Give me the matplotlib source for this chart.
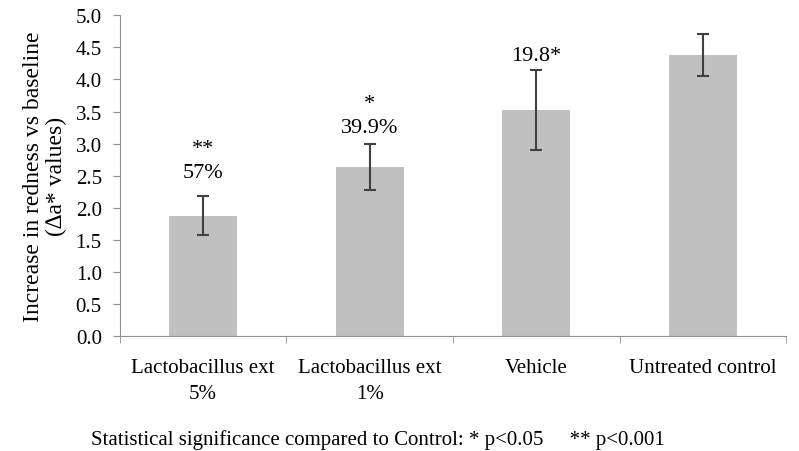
import matplotlib
matplotlib.use("Agg")
from matplotlib import pyplot as plt
import numpy as np

plt.rcParams['font.family'] = ['Liberation Serif', 'DejaVu Serif']

categories = ['Lactobacillus ext\n5%', 'Lactobacillus ext\n1%', 'Vehicle', 'Untreated control']
means = [1.88, 2.64, 3.52, 4.38]
errors = [0.30, 0.36, 0.62, 0.33]
notes = ['**\n57%', '*\n39.9%', '19.8*', '']
note_gap = [0.22, 0.10, 0.08, 0.0]

fig = plt.figure(figsize=(7.99, 4.52), dpi=100)
ax = fig.add_axes([0.150, 0.254, 0.834, 0.710])

x = np.arange(len(categories))
ax.bar(x, means, width=0.41, color='#c0c0c0', zorder=2)
ax.errorbar(x, means, yerr=errors, fmt='none', ecolor='#404040',
            elinewidth=1.5, capsize=4, capthick=1.5, zorder=3)

for xi, m, e, n, g in zip(x, means, errors, notes, note_gap):
    if n:
        ax.text(xi, m + e + g, n, ha='center', va='bottom',
                fontsize=16, linespacing=1.4)

ax.set_xlim(-0.5, len(categories) - 0.5)
ax.set_ylim(0, 5)
ticks = np.arange(0, 5.01, 0.5)
ax.set_yticks(ticks)
ax.set_yticklabels([f'{v:.1f}' for v in ticks], fontsize=15)
ax.set_xticks(x)
ax.set_xticklabels(categories, fontsize=15, linespacing=1.45)
ax.tick_params(axis='x', length=0, pad=16)
ax.set_xticks(np.arange(-0.5, len(categories), 1), minor=True)
ax.tick_params(axis='x', which='minor', length=5, color='#909090')
ax.tick_params(axis='y', length=5, color='#909090', pad=8)

for s in ['top', 'right']:
    ax.spines[s].set_visible(False)
for s in ['left', 'bottom']:
    ax.spines[s].set_color('#909090')

ax.set_ylabel('Increase in redness vs baseline\n(\u2206a* values)', fontsize=17,
              linespacing=1.15, labelpad=6)

fig.text(0.473, 0.027, 'Statistical significance compared to Control: * p<0.05     ** p<0.001',
         ha='center', va='center', fontsize=15)

fig.savefig('out.png', dpi=100)
